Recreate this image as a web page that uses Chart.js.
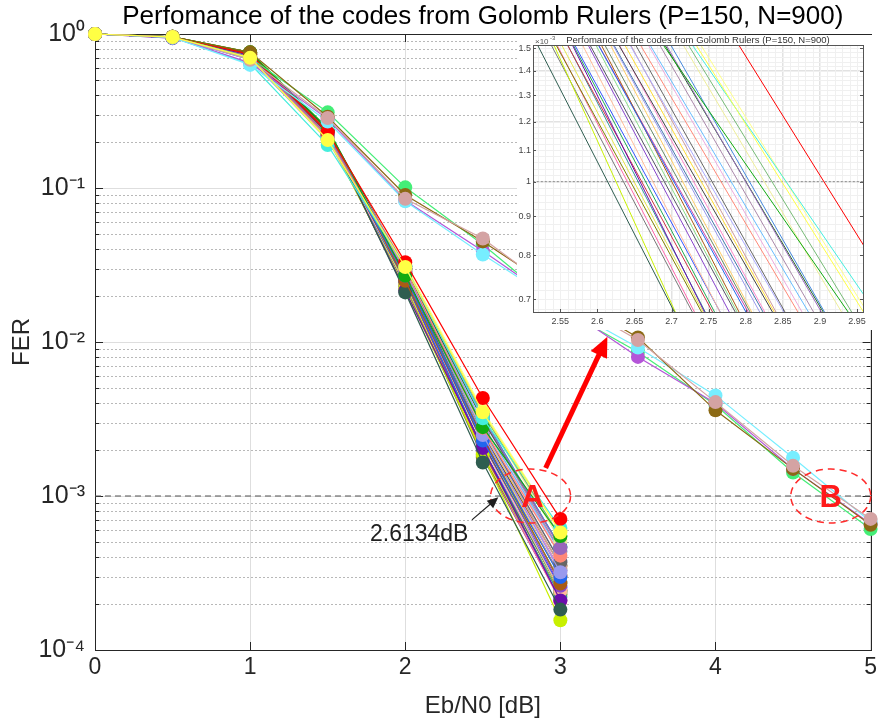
<!DOCTYPE html>
<html lang="en">
<head>
<meta charset="UTF-8">
<title>FER of Golomb ruler codes</title>
<style>
  body { margin: 0; background: #fff; }
  #wrap { position: relative; width: 881px; height: 724px; }
  #main { position: absolute; left: 0; top: 0; }
  #inset { position: absolute; left: 517px; top: 35px; background: #fff; }
</style>
<script src="https://cdn.jsdelivr.net/npm/chart.js"></script>
</head>
<body>
<div id="wrap">
  <canvas id="main" width="881" height="724"></canvas>
  <canvas id="inset" width="356" height="295"></canvas>
</div>
<script>
const titleText = 'Perfomance of the codes from Golomb Rulers (P=150, N=900)';

// Eb/N0 points
const ebn0Short = [0, 0.5, 1, 1.5, 2, 2.5, 3];
const ebn0Long = [0, 0.5, 1, 1.5, 2, 2.5, 3, 3.5, 4, 4.5, 5];

// codes simulated up to 3 dB (paint order: first = bottom, last = yellow on top of all)
const ferShort = [
  [1, 0.95, 0.70, 0.215, 0.023, 0.00178, 0.000211],
  [1, 0.95, 0.71, 0.22, 0.024, 0.00185, 0.000207],
  [1, 0.96, 0.76, 0.24, 0.024, 0.00182, 0.00023],
  [1, 0.95, 0.70, 0.21, 0.024, 0.00189, 0.000225],
  [1, 0.95, 0.69, 0.21, 0.025, 0.00197, 0.000221],
  [1, 0.95, 0.71, 0.22, 0.025, 0.00194, 0.000244],
  [1, 0.96, 0.75, 0.24, 0.026, 0.00202, 0.00024],
  [1, 0.95, 0.68, 0.21, 0.025, 0.00202, 0.000255],
  [1, 0.95, 0.69, 0.205, 0.026, 0.00215, 0.000241],
  [1, 0.95, 0.70, 0.22, 0.026, 0.0022, 0.000261],
  [1, 0.95, 0.72, 0.225, 0.027, 0.0022, 0.000277],
  [1, 0.95, 0.71, 0.22, 0.027, 0.0023, 0.000273],
  [1, 0.95, 0.70, 0.22, 0.028, 0.00228, 0.000305],
  [1, 0.96, 0.73, 0.23, 0.027, 0.00239, 0.000301],
  [1, 0.95, 0.69, 0.21, 0.028, 0.0025, 0.000297],
  [1, 0.95, 0.71, 0.22, 0.028, 0.00248, 0.00033],
  [1, 0.95, 0.70, 0.215, 0.029, 0.00259, 0.000327],
  [1, 0.95, 0.72, 0.225, 0.028, 0.00251, 0.000354],
  [1, 0.95, 0.70, 0.21, 0.029, 0.00263, 0.000351],
  [1, 0.95, 0.71, 0.22, 0.029, 0.00276, 0.000348],
  [1, 0.95, 0.70, 0.215, 0.030, 0.00266, 0.000376],
  [1, 0.95, 0.71, 0.22, 0.029, 0.00279, 0.000372],
  [1, 0.95, 0.70, 0.21, 0.030, 0.00293, 0.000414],
  [1, 0.95, 0.69, 0.205, 0.030, 0.0029, 0.000434],
  [1, 0.95, 0.71, 0.22, 0.030, 0.00311, 0.00044],
  [1, 0.96, 0.75, 0.24, 0.030, 0.00313, 0.000468],
  [1, 0.95, 0.70, 0.215, 0.031, 0.0033, 0.000466],
  [1, 0.95, 0.70, 0.21, 0.031, 0.00344, 0.000514],
  [1, 0.95, 0.71, 0.22, 0.031, 0.00344, 0.000545],
  [1, 0.95, 0.70, 0.21, 0.032, 0.0036, 0.00059],
  [1, 0.95, 0.72, 0.22, 0.022, 0.00186, 0.000156],
  [1, 0.94, 0.73, 0.23, 0.0215, 0.00205, 0.00021],
  [1, 0.95, 0.74, 0.235, 0.021, 0.00165, 0.000183],
  [1, 0.96, 0.74, 0.235, 0.025, 0.0024, 0.00027],
  [1, 0.95, 0.70, 0.215, 0.027, 0.00229, 0.000298],
  [1, 0.95, 0.70, 0.215, 0.029, 0.00249, 0.00032],
  [1, 0.95, 0.70, 0.215, 0.030, 0.00277, 0.00041],
  [1, 0.95, 0.71, 0.22, 0.031, 0.0032, 0.00046],
  [1, 0.96, 0.76, 0.245, 0.027, 0.0028, 0.00055],
  [1, 0.95, 0.64, 0.19, 0.031, 0.0032, 0.00062],
  [1, 0.96, 0.74, 0.23, 0.033, 0.00433, 0.00071],
  [1, 0.955, 0.70, 0.205, 0.0307, 0.0035, 0.00058]
];
const colorsShort = [
  '#777777', '#ff66aa', '#808000', '#e6e64d', '#339999', '#cc3344', '#22aa55',
  '#3355ff', '#ffbb99', '#8844cc', '#555566', '#88dd88', '#cc44aa', '#668866',
  '#ffcc66', '#4477aa', '#ff88cc', '#444444', '#ffdd33', '#cc9999', '#aaaaff',
  '#666666', '#eeaadd', '#66bbff', '#aa88aa', '#226622', '#4488dd', '#eeee99',
  '#77bb77', '#ffff88', '#c8f000', '#6a0dad', '#2f5d50', '#aa5c14', '#2266ee',
  '#9999ee', '#ff8877', '#9966bb', '#11aa11', '#44eedd', '#ff0000', '#ffff44'
];

// codes simulated up to 5 dB
const ferLong = [
  [1, 0.96, 0.70, 0.31, 0.101, 0.043, 0.0165, 0.0086, 0.0039, 0.00142, 0.00061],
  [1, 0.95, 0.65, 0.28, 0.083, 0.039, 0.0175, 0.0080, 0.0040, 0.0015, 0.00066],
  [1, 0.95, 0.63, 0.27, 0.082, 0.037, 0.0175, 0.0092, 0.0045, 0.00177, 0.00068],
  [1, 0.96, 0.76, 0.29, 0.090, 0.045, 0.021, 0.0107, 0.0036, 0.0015, 0.00065],
  [1, 0.96, 0.68, 0.285, 0.085, 0.047, 0.020, 0.0103, 0.00407, 0.00157, 0.00071]
];
const colorsLong = ['#44ee77', '#b455d8', '#77eeff', '#8b6914', '#d4a3a3'];

const refLevel = 1e-3;
const xTicks = [0, 1, 2, 3, 4, 5];
const yTicks = [1e-4, 1e-3, 1e-2, 1e-1, 1];
const yTickLabels = ['10⁻⁴', '10⁻³', '10⁻²', '10⁻¹', '10⁰'];

const insetXTicks = [2.55, 2.6, 2.65, 2.7, 2.75, 2.8, 2.85, 2.9, 2.95];
const insetXLabels = ['2.55', '2.6', '2.65', '2.7', '2.75', '2.8', '2.85', '2.9', '2.95'];
const insetYTicks = [0.0007, 0.0008, 0.0009, 0.001, 0.0011, 0.0012, 0.0013, 0.0014, 0.0015];
const insetYLabels = ['0.7', '0.8', '0.9', '1', '1.1', '1.2', '1.3', '1.4', '1.5'];

const FONT = "'Liberation Sans', Arial, sans-serif";
const AX = '#262626';

Chart.defaults.font.family = FONT;

function makeSets(main) {
  const sets = [];
  const add = (xs, ys, color) => sets.push({
    data: xs.map((x, i) => ({x: x, y: ys[i]})),
    borderColor: color,
    backgroundColor: color,
    borderWidth: main ? 1.2 : 1,
    pointRadius: main ? 7 : 0,
    pointBorderWidth: 0,
    pointHoverRadius: 0,
    clip: main ? false : undefined
  });
  // 1e-3 reference line
  add([main ? 0 : 2.4, main ? 5 : 3.1], [refLevel, refLevel], main ? '#555555' : '#999999');
  sets[0].borderDash = main ? [6, 4] : [2, 2];
  sets[0].borderWidth = 1.2;
  sets[0].pointRadius = 0;
  const last = ferShort.length - 1;
  ferShort.slice(0, last).forEach((ys, i) => add(ebn0Short, ys, colorsShort[i]));
  ferLong.forEach((ys, i) => add(ebn0Long, ys, colorsLong[i]));
  add(ebn0Short, ferShort[last], colorsShort[last]);
  // Chart.js paints dataset 0 last, so flip to keep the order above
  return sets.reverse();
}

function arrow(ctx, x1, y1, x2, y2, w, head, color) {
  const a = Math.atan2(y2 - y1, x2 - x1);
  const c = Math.cos(a), s = Math.sin(a);
  ctx.strokeStyle = color;
  ctx.fillStyle = color;
  ctx.lineWidth = w;
  ctx.setLineDash([]);
  ctx.beginPath();
  ctx.moveTo(x1, y1);
  ctx.lineTo(x2 - head * 0.8 * c, y2 - head * 0.8 * s);
  ctx.stroke();
  ctx.beginPath();
  ctx.moveTo(x2, y2);
  ctx.lineTo(x2 - head * c + head * 0.45 * s, y2 - head * s - head * 0.45 * c);
  ctx.lineTo(x2 - head * c - head * 0.45 * s, y2 - head * s + head * 0.45 * c);
  ctx.closePath();
  ctx.fill();
}

// title centred over the plot area, like MATLAB does
function drawTitle(chart, size, y, color) {
  const {ctx, chartArea: a} = chart;
  ctx.save();
  ctx.fillStyle = color;
  ctx.font = size + 'px ' + FONT;
  ctx.textAlign = 'center';
  ctx.textBaseline = 'middle';
  ctx.fillText(titleText, (a.left + a.right) / 2, y);
  ctx.restore();
}

const mainDecor = {
  id: 'mainDecor',
  beforeDatasetsDraw(chart) {
    const {ctx, chartArea: a, scales: {x, y}} = chart;
    ctx.save();
    // minor grid + ticks
    ctx.lineWidth = 1;
    for (let e = -4; e < 0; e++) {
      for (let k = 2; k <= 9; k++) {
        const py = Math.round(y.getPixelForValue(k * Math.pow(10, e))) + 0.5;
        ctx.strokeStyle = '#b8b8b8';
        ctx.setLineDash([2, 2]);
        ctx.beginPath(); ctx.moveTo(a.left, py); ctx.lineTo(a.right, py); ctx.stroke();
        ctx.setLineDash([]);
        ctx.strokeStyle = AX;
        ctx.beginPath();
        ctx.moveTo(a.left, py); ctx.lineTo(a.left + 4, py);
        ctx.moveTo(a.right, py); ctx.lineTo(a.right - 4, py);
        ctx.stroke();
      }
    }
    ctx.strokeStyle = AX;
    ctx.setLineDash([]);
    ctx.beginPath();
    yTicks.forEach(v => {
      const py = Math.round(y.getPixelForValue(v)) + 0.5;
      ctx.moveTo(a.left, py); ctx.lineTo(a.left + 8, py);
      ctx.moveTo(a.right, py); ctx.lineTo(a.right - 8, py);
    });
    xTicks.forEach(v => {
      const px = Math.round(x.getPixelForValue(v)) + 0.5;
      ctx.moveTo(px, a.bottom); ctx.lineTo(px, a.bottom - 8);
      ctx.moveTo(px, a.top); ctx.lineTo(px, a.top + 8);
    });
    ctx.stroke();
    ctx.strokeRect(Math.round(a.left) + 0.5, Math.round(a.top) + 0.5,
      Math.round(a.right - a.left), Math.round(a.bottom - a.top));
    ctx.restore();
  },
  afterDatasetsDraw(chart) {
    const {ctx, scales: {x, y}} = chart;
    const px = v => x.getPixelForValue(v), py = v => y.getPixelForValue(v);
    ctx.save();
    // dashed ellipses A and B around the 1e-3 crossing
    ctx.strokeStyle = '#ff2a2a';
    ctx.lineWidth = 1.5;
    ctx.setLineDash([7, 5]);
    [2.808, 4.743].forEach(cx => {
      ctx.beginPath();
      ctx.ellipse(px(cx), py(refLevel), 40, 27, 0, 0, Math.PI * 2);
      ctx.stroke();
    });
    ctx.setLineDash([]);
    ctx.fillStyle = '#ff1a1a';
    ctx.font = 'bold 31px ' + FONT;
    ctx.textAlign = 'center';
    ctx.textBaseline = 'middle';
    ctx.fillText('A', px(2.82), py(refLevel) + 2);
    ctx.fillText('B', px(4.743), py(refLevel) + 2);
    // thick red arrow towards the inset
    arrow(ctx, px(2.905), py(1.52e-3), px(3.303), py(0.0108), 5, 20, '#ff0000');
    // black arrow and threshold label
    arrow(ctx, px(2.43), py(7.0e-4), px(2.6), py(0.98e-3), 1.2, 11, '#202020');
    ctx.fillStyle = '#202020';
    ctx.font = '23px ' + FONT;
    ctx.fillText('2.6134dB', px(2.09), py(5.6e-4));
    ctx.restore();
  },
  afterDraw(chart) {
    drawTitle(chart, 26, 17, '#000');
  }
};

new Chart(document.getElementById('main'), {
  type: 'line',
  data: {datasets: makeSets(true)},
  options: {
    responsive: false,
    animation: false,
    events: [],
    layout: {padding: {top: 34, right: 8}},
    plugins: {
      legend: {display: false},
      tooltip: {enabled: false},
      title: {display: false}
    },
    scales: {
      x: {
        type: 'linear', min: 0, max: 5,
        afterBuildTicks: s => { s.ticks = xTicks.map(v => ({value: v})); },
        afterFit: s => { s.height = 74; },
        ticks: {color: AX, font: {size: 23}, padding: 4},
        grid: {color: '#dedede', drawTicks: false},
        border: {display: false},
        title: {
          display: true, text: 'Eb/N0 [dB]', color: AX,
          font: {size: 24, lineHeight: 1}, padding: {top: 0, bottom: 6}
        }
      },
      y: {
        type: 'logarithmic', min: 1e-4, max: 1,
        afterBuildTicks: s => { s.ticks = yTicks.map(v => ({value: v})); },
        afterFit: s => { s.width = 95; },
        ticks: {
          color: AX, font: {size: 25}, padding: 10,
          callback: (v, i) => yTickLabels[i]
        },
        grid: {color: '#dedede', drawTicks: false},
        border: {display: false},
        title: {
          display: true, text: 'FER', color: AX,
          font: {size: 24, lineHeight: 1}, padding: {top: 10}
        }
      }
    }
  },
  plugins: [mainDecor]
});

const insetDecor = {
  id: 'insetDecor',
  beforeDatasetsDraw(chart) {
    const {ctx, chartArea: a, scales: {x, y}} = chart;
    ctx.save();
    ctx.lineWidth = 1;
    ctx.strokeStyle = '#f0f0f0';
    ctx.beginPath();
    for (let v = 2.52; v < 2.958; v += 0.01) {
      const p = Math.round(x.getPixelForValue(v)) + 0.5;
      ctx.moveTo(p, a.top); ctx.lineTo(p, a.bottom);
    }
    for (let v = 0.68; v < 1.51; v += 0.02) {
      const p = Math.round(y.getPixelForValue(v * 1e-3)) + 0.5;
      ctx.moveTo(a.left, p); ctx.lineTo(a.right, p);
    }
    ctx.stroke();
    ctx.strokeStyle = '#555';
    ctx.beginPath();
    insetYTicks.forEach(v => {
      const p = Math.round(y.getPixelForValue(v)) + 0.5;
      ctx.moveTo(a.left, p); ctx.lineTo(a.left + 3, p);
      ctx.moveTo(a.right, p); ctx.lineTo(a.right - 3, p);
    });
    insetXTicks.forEach(v => {
      const p = Math.round(x.getPixelForValue(v)) + 0.5;
      ctx.moveTo(p, a.bottom); ctx.lineTo(p, a.bottom - 3);
    });
    ctx.stroke();
    ctx.restore();
  },
  afterDraw(chart) {
    const {ctx, chartArea: a} = chart;
    ctx.save();
    ctx.strokeStyle = '#555';
    ctx.lineWidth = 1;
    ctx.strokeRect(Math.round(a.left) + 0.5, Math.round(a.top) + 0.5,
      Math.round(a.right - a.left), Math.round(a.bottom - a.top));
    ctx.fillStyle = '#555';
    ctx.textBaseline = 'alphabetic';
    ctx.font = '8px ' + FONT;
    ctx.fillText('×10', a.left + 2, a.top - 1);
    ctx.font = '6px ' + FONT;
    ctx.fillText('-3', a.left + 17, a.top - 5);
    ctx.restore();
    drawTitle(chart, 9.5, 5, '#333');
  }
};

new Chart(document.getElementById('inset'), {
  type: 'line',
  data: {datasets: makeSets(false)},
  options: {
    responsive: false,
    animation: false,
    events: [],
    layout: {padding: {top: 10, right: 10}},
    plugins: {
      legend: {display: false},
      tooltip: {enabled: false},
      title: {display: false}
    },
    scales: {
      x: {
        type: 'linear', min: 2.5134, max: 2.958,
        afterBuildTicks: s => { s.ticks = insetXTicks.map(v => ({value: v})); },
        afterFit: s => { s.height = 18; },
        ticks: {color: '#444', font: {size: 9}, padding: 4, autoSkip: false, maxRotation: 0,
          callback: (v, i) => insetXLabels[i]},
        grid: {color: '#e2e2e2', drawTicks: false},
        border: {display: false}
      },
      y: {
        type: 'logarithmic', min: 0.673e-3, max: 1.514e-3,
        afterBuildTicks: s => { s.ticks = insetYTicks.map(v => ({value: v})); },
        afterFit: s => { s.width = 16; },
        ticks: {color: '#444', font: {size: 9}, padding: 2, autoSkip: false,
          callback: (v, i) => insetYLabels[i]},
        grid: {color: '#e2e2e2', drawTicks: false},
        border: {display: false}
      }
    }
  },
  plugins: [insetDecor]
});
</script>
</body>
</html>
